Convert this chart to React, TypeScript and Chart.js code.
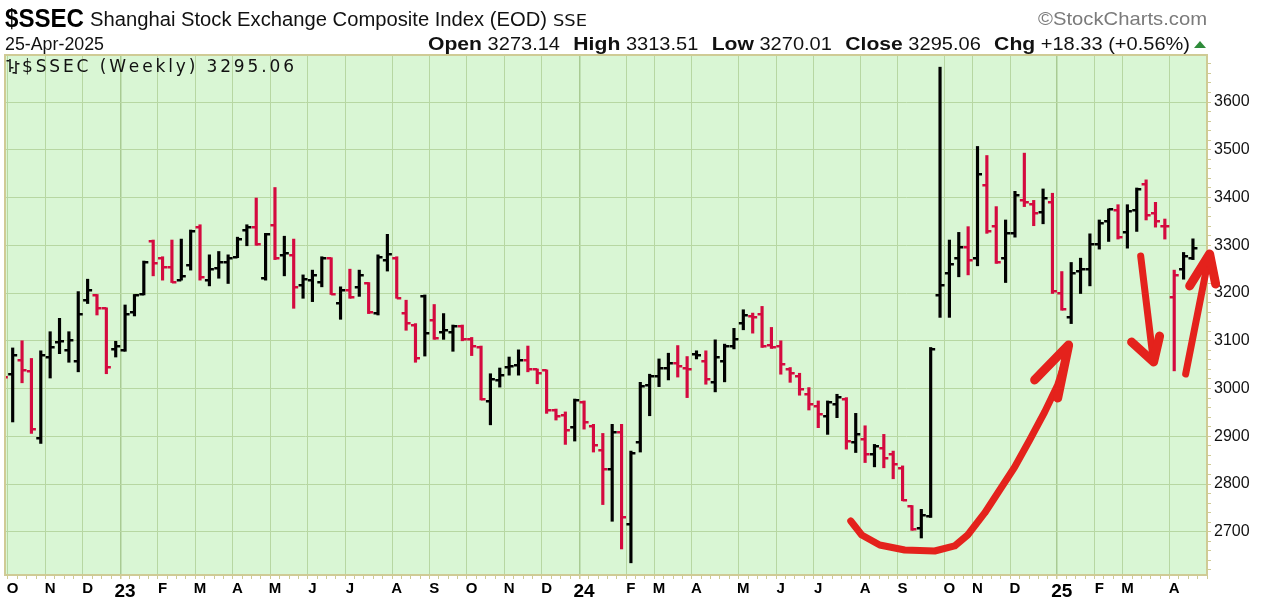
import React, { useEffect, useRef } from "react";
import { Chart, registerables } from "chart.js";

Chart.register(...registerables);

// ---------- data (weekly OHLC, $SSEC) ----------
const FIRST_WEEK = -1;
const weekOpen = [
  3045, 3030, 3060, 3036, 2896, 3066, 3097, 3080, 3057, 3185, 3196, 3168, 3082, 3080, 3161, 3199,
  3309, 3273, 3255, 3228, 3259, 3339, 3227, 3252, 3264, 3276, 3332, 3339, 3231, 3343, 3280, 3280,
  3217, 3227, 3224, 3273, 3180, 3206, 3213, 3220, 3159, 3270, 3274, 3159, 3133, 3194, 3143, 3118,
  3118, 3131, 3103, 3087, 2973, 3018, 3045, 3050, 3059, 3040, 3038, 2956, 2945, 2920, 2972, 2922,
  2871, 2832, 2910, 2717, 2887, 3007, 3027, 3044, 3054, 3044, 3072, 3058, 3013, 3058, 3090, 3137,
  3152, 3156, 3091, 3090, 3041, 3027, 2988, 2964, 2943, 2967, 2979, 2887, 2895, 2862, 2876, 2862,
  2834, 2754, 2708, 2733, 3195, 3241, 3273, 3297, 3273, 3427, 3341, 3273, 3325, 3394, 3387, 3369,
  3390, 3201, 3149, 3247, 3250, 3303, 3350, 3374, 3327, 3373, 3429, 3367, 3341, 3191, 3250, 3273.14,
];
const weekHigh = [
  3060, 3085, 3100, 3063, 3079, 3119, 3147, 3119, 3203, 3229, 3197, 3169, 3099, 3175, 3197, 3267,
  3311, 3276, 3311, 3313, 3332, 3343, 3280, 3287, 3280, 3317, 3343, 3399, 3325, 3421, 3319, 3313,
  3238, 3248, 3276, 3274, 3213, 3250, 3248, 3222, 3280, 3323, 3276, 3185, 3136, 3196, 3176, 3157,
  3133, 3133, 3107, 3089, 3031, 3043, 3066, 3081, 3089, 3041, 3039, 2957, 2951, 2978, 2974, 2925,
  2906, 2925, 2925, 2869, 3013, 3030, 3062, 3074, 3090, 3067, 3079, 3079, 3102, 3093, 3126, 3165,
  3158, 3172, 3128, 3100, 3044, 3032, 3002, 2974, 2974, 2988, 2981, 2948, 2922, 2883, 2904, 2869,
  2838, 2755, 2747, 3086, 3673, 3311, 3327, 3339, 3507, 3488, 3381, 3353, 3413, 3493, 3394, 3418,
  3409, 3245, 3264, 3273, 3324, 3353, 3376, 3385, 3385, 3420, 3437, 3390, 3355, 3248, 3285, 3313.51,
];
const weekLow = [
  3018, 2930, 3012, 2906, 2885, 3022, 3073, 3055, 3035, 3178, 3154, 3031, 3066, 3078, 3152, 3196,
  3236, 3227, 3222, 3227, 3248, 3227, 3215, 3231, 3220, 3274, 3299, 3300, 3227, 3270, 3236, 3168,
  3189, 3182, 3213, 3197, 3145, 3189, 3193, 3157, 3154, 3246, 3189, 3122, 3055, 3068, 3103, 3103,
  3078, 3100, 3069, 2976, 2924, 3003, 3028, 3028, 3035, 3010, 2948, 2934, 2883, 2890, 2915, 2867,
  2757, 2722, 2664, 2635, 2867, 2943, 3004, 3018, 3024, 2981, 3062, 3009, 2993, 3014, 3083, 3123,
  3116, 3086, 3084, 3030, 3013, 2986, 2955, 2918, 2904, 2939, 2873, 2866, 2845, 2836, 2834, 2811,
  2765, 2703, 2687, 2730, 3149, 3149, 3234, 3238, 3257, 3325, 3262, 3222, 3317, 3381, 3341, 3345,
  3199, 3164, 3136, 3199, 3215, 3292, 3308, 3313, 3294, 3329, 3353, 3338, 3313, 3037, 3229, 3270.01,
];
const weekClose = [
  3024, 3070, 3038, 2915, 3070, 3087, 3099, 3101, 3157, 3206, 3168, 3045, 3089, 3157, 3195, 3264,
  3263, 3255, 3224, 3236, 3330, 3234, 3250, 3266, 3273, 3314, 3338, 3302, 3323, 3273, 3283, 3212,
  3230, 3238, 3274, 3199, 3206, 3192, 3238, 3161, 3276, 3281, 3190, 3137, 3064, 3117, 3105, 3123,
  3131, 3103, 3090, 2979, 3021, 3029, 3047, 3059, 3041, 3032, 2955, 2942, 2914, 2975, 2930, 2881,
  2832, 2910, 2730, 2866, 3005, 3027, 3044, 3054, 3048, 3041, 3070, 3020, 3065, 3090, 3104, 3154,
  3150, 3089, 3087, 3052, 3033, 2999, 2968, 2947, 2971, 2982, 2891, 2904, 2863, 2879, 2855, 2842,
  2767, 2705, 2736, 3083, 3216, 3261, 3296, 3270, 3450, 3329, 3266, 3326, 3406, 3390, 3368, 3398,
  3205, 3167, 3243, 3251, 3303, 3347, 3375, 3318, 3372, 3417, 3363, 3351, 3340, 3238, 3277, 3295.06,
];

// x axis: month grid lines at the first weekly bar of each month
const monthTickWeeks = [0, 4, 8, 12, 16, 20, 24, 28, 32, 36, 41, 45, 49, 53, 57, 61, 66, 69, 73, 78, 82, 86, 91, 95, 100, 103, 107, 112, 116, 119, 124];
const monthTickLabels = ["O", "N", "D", "23", "F", "M", "A", "M", "J", "J", "A", "S", "O", "N", "D", "24", "F", "M", "A", "M", "J", "J", "A", "S", "O", "N", "D", "25", "F", "M", "A"];
const yearTickLabels = ["23", "24", "25"];
const priceTickLabels = [2700, 2800, 2900, 3000, 3100, 3200, 3300, 3400, 3500, 3600];

// header texts
const symbolText = "$SSEC";
const nameText = "Shanghai Stock Exchange Composite Index (EOD)";
const exchangeText = "SSE";
const creditText = "\u00A9StockCharts.com";
const dateText = "25-Apr-2025";
const quoteLabels = ["Open", "High", "Low", "Close", "Chg"];
const quoteValues = ["3273.14", "3313.51", "3270.01", "3295.06", "+18.33 (+0.56%)"];
const legendText = "$SSEC (Weekly) 3295.06";

// hand-drawn red annotations, in [week, price] units
const annotationCurve: [number, number][] = [
  [89.47, 2722.6], [90.64, 2693.3], [92.56, 2672.4], [95.23, 2661.9], [98.43, 2659.8], [100.56, 2670.3],
  [101.95, 2693.3], [103.77, 2739.4], [105.37, 2787.5], [106.97, 2835.7], [108.57, 2892.2], [110.17, 2950.9],
  [111.56, 3007.4], [112.41, 3059.8],
];
const annotationCurveHead: [number, number][] = [[109.1, 3017.9], [112.73, 3091.2], [111.56, 2980.2]];
const annotationDownShaft: [number, number][] = [[120.42, 3277.6], [121.7, 3070.3]];
const annotationDownHead: [number, number][] = [[119.45, 3097.5], [121.8, 3055.6], [122.44, 3110.0]];
const annotationUpShaft: [number, number][] = [[125.22, 3030.5], [127.46, 3252.5]];
const annotationUpHead: [number, number][] = [[125.65, 3214.8], [127.78, 3281.8], [128.42, 3219.0]];

// ---------- style ----------
const W = 1264;
const H = 598;
const X_MIN = -0.82;
const X_MAX = 127.5;
const Y_MIN = 2609.5;
const Y_MAX = 3698.5;
const BG = "#d9f6d4";
const GRID = "#b7d7a2";
const YEAR_GRID = "#a9cb93";
const FRAME = "#cfcb95";
const UP = "#000000";
const DOWN = "#d40a3f";
const ANNOT = "#e4221c";
const SANS = '"Liberation Sans", Arial, sans-serif';
const NARROW = '"Liberation Sans Narrow", "Liberation Sans", Arial, sans-serif';

function drawFitted(ctx: CanvasRenderingContext2D, text: string, x: number, base: number, font: string, width: number, color: string) {
  ctx.save();
  ctx.font = font;
  ctx.fillStyle = color;
  ctx.textAlign = "left";
  ctx.textBaseline = "alphabetic";
  const w = ctx.measureText(text).width || 1;
  ctx.translate(x, base);
  ctx.scale(width / w, 1);
  ctx.fillText(text, 0, 0);
  ctx.restore();
}

function drawSpaced(ctx: CanvasRenderingContext2D, text: string, x: number, base: number, font: string, width: number, color: string) {
  ctx.save();
  ctx.font = font;
  ctx.fillStyle = color;
  ctx.textAlign = "left";
  ctx.textBaseline = "alphabetic";
  const chars = Array.from(text);
  const widths = chars.map((c) => ctx.measureText(c).width);
  const total = widths.reduce((a, b) => a + b, 0);
  const gap = chars.length > 1 ? (width - total) / (chars.length - 1) : 0;
  let cx = x;
  chars.forEach((c, i) => {
    ctx.fillText(c, cx, base);
    cx += widths[i] + gap;
  });
  ctx.restore();
}

const monthLabelByWeek = new Map<number, string>();
monthTickWeeks.forEach((w, i) => monthLabelByWeek.set(w, monthTickLabels[i]));

const ohlcPlugin = {
  id: "ohlcDecor",
  beforeDraw(chart: any) {
    const { ctx, chartArea: a } = chart;
    ctx.save();
    ctx.fillStyle = "#ffffff";
    ctx.fillRect(0, 0, W, H);
    ctx.fillStyle = BG;
    ctx.fillRect(a.left, a.top, a.right - a.left, a.bottom - a.top);
    ctx.restore();
  },
  afterDatasetsDraw(chart: any) {
    const { ctx, chartArea: a, scales } = chart;
    const xs = scales.x;
    const ys = scales.y;
    ctx.save();
    ctx.beginPath();
    ctx.rect(a.left, a.top, a.right - a.left, a.bottom - a.top);
    ctx.clip();
    for (let i = 0; i < weekClose.length; i++) {
      const prev = i > 0 ? weekClose[i - 1] : weekOpen[i];
      ctx.fillStyle = weekClose[i] >= prev ? UP : DOWN;
      const x = xs.getPixelForValue(FIRST_WEEK + i);
      const yo = Math.round(ys.getPixelForValue(weekOpen[i]));
      const yc = Math.round(ys.getPixelForValue(weekClose[i]));
      ctx.fillRect(x - 4.5, yo - 1, 4.5, 2.5);
      ctx.fillRect(x, yc - 1, 4.5, 2.5);
    }
    ctx.restore();
    ctx.save();
    ctx.strokeStyle = FRAME;
    ctx.lineWidth = 2;
    ctx.strokeRect(a.left, a.top, a.right - a.left, a.bottom - a.top);
    ctx.restore();
  },
  afterDraw(chart: any) {
    const { ctx, scales } = chart;
    const xs = scales.x;
    const ys = scales.y;

    // header row 1
    drawFitted(ctx, symbolText, 5, 27, `bold 26px ${SANS}`, 79, "#000");
    drawFitted(ctx, nameText, 90, 26, `20px ${SANS}`, 457, "#111");
    drawFitted(ctx, exchangeText, 553, 26, `15px "DejaVu Sans", sans-serif`, 34, "#111");
    drawFitted(ctx, creditText, 1038, 25, `19px ${SANS}`, 169, "#7b7b7b");

    // header row 2
    drawFitted(ctx, dateText, 5, 50, `18px ${SANS}`, 99, "#111");
    ctx.save();
    const labelFont = `bold 19px ${SANS}`;
    const valueFont = `18px ${SANS}`;
    let natural = 0;
    const parts: { t: string; f: string; w: number; gap: number }[] = [];
    quoteLabels.forEach((lab, i) => {
      ctx.font = labelFont;
      const lw = ctx.measureText(lab).width;
      ctx.font = valueFont;
      const vw = ctx.measureText(quoteValues[i]).width;
      parts.push({ t: lab, f: labelFont, w: lw, gap: 5 });
      parts.push({ t: quoteValues[i], f: valueFont, w: vw, gap: i < quoteLabels.length - 1 ? 12 : 0 });
      natural += lw + 5 + vw + (i < quoteLabels.length - 1 ? 12 : 0);
    });
    const startX = 428;
    const endX = 1190;
    const s = (endX - startX) / natural;
    ctx.translate(startX, 50);
    ctx.scale(s, 1);
    ctx.fillStyle = "#111";
    ctx.textBaseline = "alphabetic";
    let cx = 0;
    parts.forEach((p) => {
      ctx.font = p.f;
      ctx.fillText(p.t, cx, 0);
      cx += p.w + p.gap;
    });
    ctx.restore();
    ctx.save();
    ctx.fillStyle = "#2e8b3a";
    ctx.beginPath();
    ctx.moveTo(1194, 48);
    ctx.lineTo(1206, 48);
    ctx.lineTo(1200, 41);
    ctx.closePath();
    ctx.fill();
    ctx.restore();

    // legend inside the chart
    ctx.save();
    ctx.fillStyle = "#111";
    const icon = [
      [10, 59, 72, 60, 67],
      [16, 61, 74, 72, 63],
    ];
    icon.forEach(([x, t, b, o, c]) => {
      ctx.fillRect(x - 0.75, t, 1.5, b - t);
      ctx.fillRect(x - 3.5, o, 3, 1.5);
      ctx.fillRect(x + 0.5, c, 3, 1.5);
    });
    ctx.restore();
    drawSpaced(ctx, legendText, 22, 72, `17px "DejaVu Sans", sans-serif`, 272, "#111");

    // annotations
    const path = (pts: [number, number][]) => {
      ctx.beginPath();
      pts.forEach(([w, v], i) => {
        const px = xs.getPixelForValue(w);
        const py = ys.getPixelForValue(v);
        if (i === 0) ctx.moveTo(px, py);
        else ctx.lineTo(px, py);
      });
      ctx.stroke();
    };
    ctx.save();
    ctx.strokeStyle = ANNOT;
    ctx.fillStyle = ANNOT;
    ctx.lineCap = "round";
    ctx.lineJoin = "round";
    ctx.lineWidth = 7;
    path(annotationCurve);
    path(annotationDownShaft);
    path(annotationUpShaft);
    ctx.lineWidth = 9;
    path(annotationCurveHead);
    path(annotationDownHead);
    path(annotationUpHead);
    ctx.restore();
  },
};

export default function App() {
  const ref = useRef<HTMLCanvasElement | null>(null);
  useEffect(() => {
    if (!ref.current) return;
    const colors = weekClose.map((c, i) => (c >= (i > 0 ? weekClose[i - 1] : weekOpen[i]) ? UP : DOWN));
    const weekTicks: { value: number }[] = [];
    for (let w = 0; w <= 127; w++) weekTicks.push({ value: w });
    const priceTicks: { value: number }[] = [];
    for (let v = 2620; v <= 3680; v += 20) priceTicks.push({ value: v });
    const yearSet = new Set(yearTickLabels);
    const chart = new Chart(ref.current, {
      type: "bar",
      data: {
        datasets: [
          {
            data: weekHigh.map((h, i) => ({ x: FIRST_WEEK + i, y: [weekLow[i], h] })) as any,
            backgroundColor: colors,
            borderWidth: 0,
            barThickness: 2.5,
            grouped: false,
            clip: 0,
          } as any,
        ],
      },
      options: {
        responsive: false,
        animation: false,
        devicePixelRatio: 1,
        events: [],
        layout: { padding: { left: 5, top: 55, right: 0, bottom: 0 } },
        plugins: { legend: { display: false }, tooltip: { enabled: false } },
        scales: {
          x: {
            type: "linear",
            min: X_MIN,
            max: X_MAX,
            offset: false,
            afterBuildTicks: (sc: any) => {
              sc.ticks = weekTicks.map((t) => ({ ...t }));
            },
            afterFit: (sc: any) => {
              sc.height = 23;
            },
            border: { display: false },
            grid: {
              color: (c: any) => (c.tick && monthLabelByWeek.has(c.tick.value) ? (yearSet.has(monthLabelByWeek.get(c.tick.value) as string) ? YEAR_GRID : GRID) : "rgba(0,0,0,0)"),
              lineWidth: (c: any) => (c.tick && yearSet.has(monthLabelByWeek.get(c.tick.value) as string) ? 1.5 : 1),
              tickColor: FRAME,
              tickLength: 4,
              drawTicks: true,
            },
            ticks: {
              autoSkip: false,
              maxRotation: 0,
              minRotation: 0,
              padding: 1,
              color: "#000",
              callback: (v: any) => monthLabelByWeek.get(Number(v)) ?? "",
              font: (c: any) =>
                c.tick && yearSet.has(monthLabelByWeek.get(c.tick.value) as string)
                  ? { family: NARROW, size: 19, weight: "bold" }
                  : { family: NARROW, size: 15, weight: "bold" },
            } as any,
          },
          y: {
            type: "linear",
            position: "right",
            min: Y_MIN,
            max: Y_MAX,
            afterBuildTicks: (sc: any) => {
              sc.ticks = priceTicks.map((t) => ({ ...t }));
            },
            afterFit: (sc: any) => {
              sc.width = 57;
            },
            border: { display: false },
            grid: {
              color: (c: any) => (c.tick && priceTickLabels.includes(c.tick.value) ? GRID : "rgba(0,0,0,0)"),
              tickColor: FRAME,
              tickLength: 4,
            },
            ticks: {
              autoSkip: false,
              padding: 3,
              color: "#111",
              font: { family: SANS, size: 16 },
              callback: (v: any) => (priceTickLabels.includes(Number(v)) ? String(v) : ""),
            },
          },
        },
      },
      plugins: [ohlcPlugin],
    });
    return () => chart.destroy();
  }, []);
  return (
    <canvas
      ref={ref}
      width={W}
      height={H}
      style={{ position: "fixed", left: 0, top: 0, width: W, height: H, display: "block" }}
    />
  );
}
